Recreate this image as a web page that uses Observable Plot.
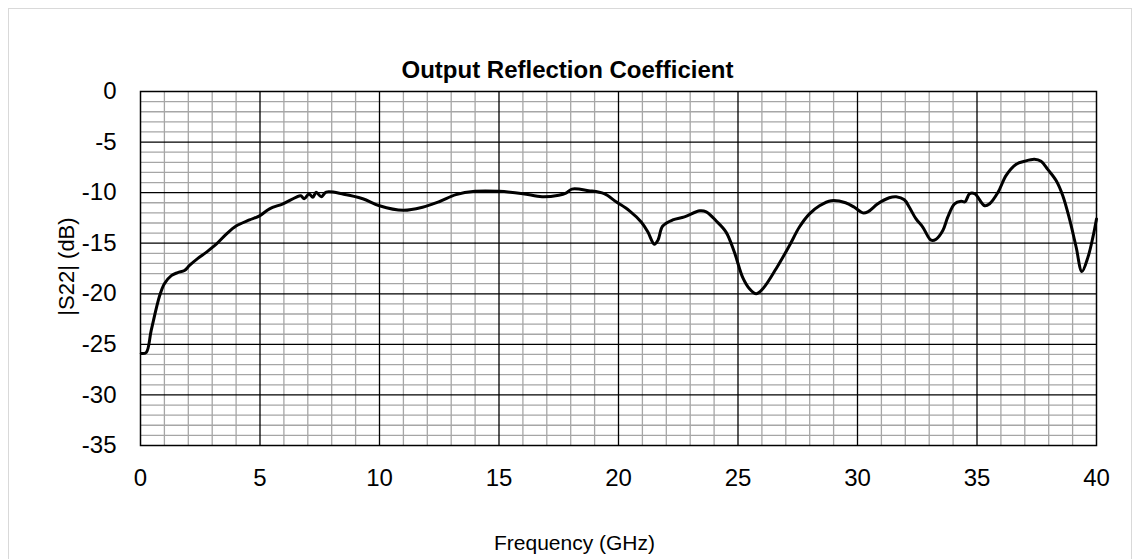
<!DOCTYPE html>
<html>
<head>
<meta charset="utf-8">
<script src="https://cdn.jsdelivr.net/npm/d3@7"></script>
<script src="https://cdn.jsdelivr.net/npm/@observablehq/plot@0.6"></script>
<style>
  html, body { margin: 0; padding: 0; background: #fff; }
  #wrap { position: relative; width: 1134px; height: 559px; overflow: hidden; }
  #border { position: absolute; left: 8px; top: 8px; width: 1124px; height: 560px; border: 1px solid #d9d9d9; box-sizing: border-box; pointer-events: none; }
  #chart { position: absolute; left: 0; top: 0; }
</style>
</head>
<body>
<div id="wrap"><div id="chart"></div><div id="border"></div></div>
<script>
const title = "Output Reflection Coefficient";
const xLabel = "Frequency (GHz)";
const yLabel = "|S22| (dB)";
const xTicks = [0, 5, 10, 15, 20, 25, 30, 35, 40];
const yTicks = [0, -5, -10, -15, -20, -25, -30, -35];

const freq = [0.03, 0.24, 0.45, 0.8, 1.0, 1.29, 1.56, 1.84, 2.05, 2.4, 2.75, 3.17, 3.59, 4.0, 4.56, 4.98, 5.4, 5.96,
  6.5, 6.71, 6.85, 7.05, 7.21, 7.35, 7.56, 7.77, 8.5, 9.3, 10.0, 11.0, 11.8, 12.5, 13.2, 14.0, 15.0, 16.0, 16.8,
  17.5, 17.8, 18.05, 18.75, 19.4, 19.9, 20.46, 20.95, 21.23, 21.5, 21.65, 21.85, 22.27, 22.76, 23.4, 23.67,
  24.09, 24.5, 24.85, 25.2, 25.48, 25.76, 26.04, 26.6, 27.16, 27.57, 27.99, 28.41, 28.9, 29.5, 29.87, 30.22,
  30.43, 30.85, 31.33, 31.62, 31.96, 32.17, 32.45, 32.73, 33.08, 33.29, 33.57, 33.78, 34.06, 34.34, 34.5,
  34.69, 34.9, 35.32, 35.53, 35.88, 36.22, 36.64, 36.99, 37.4, 37.68, 37.96, 38.31, 38.59, 38.87, 39.15,
  39.39, 39.64, 39.85, 40.0];
const s22 = [-25.9, -25.8, -23.6, -20.2, -19.0, -18.2, -17.9, -17.7, -17.2, -16.5, -15.9, -15.1, -14.1, -13.3, -12.7, -12.3, -11.6, -11.1,
  -10.46, -10.3, -10.6, -10.13, -10.46, -9.97, -10.4, -9.95, -10.15, -10.6, -11.3, -11.75, -11.45, -10.9, -10.2, -9.87, -9.87, -10.1, -10.4,
  -10.25, -10.05, -9.65, -9.8, -10.1, -10.9, -11.8, -12.9, -13.9, -15.1, -14.7, -13.3, -12.7, -12.4, -11.8, -11.9,
  -12.8, -13.9, -15.9, -18.4, -19.5, -20.0, -19.5, -17.5, -15.2, -13.4, -12.1, -11.3, -10.8, -11.0, -11.45, -12.0,
  -11.9, -11.1, -10.5, -10.4, -10.7, -11.45, -12.6, -13.4, -14.7, -14.6, -13.75, -12.4, -11.1, -10.86, -10.9,
  -10.1, -10.1, -11.3, -11.1, -9.97, -8.3, -7.2, -6.9, -6.7, -6.9, -7.7, -8.8, -10.3, -12.6, -15.4,
  -17.8, -16.4, -14.4, -12.6];

const data = freq.map((f, i) => ({f, v: s22[i]}));
const minorX = d3.range(0, 41, 1).filter(d => d % 5 !== 0);
const minorY = d3.range(-35, 1, 1).filter(d => d % 5 !== 0);
const majorX = xTicks.slice(1, -1);
const majorY = yTicks.slice(1, -1);

const font = "'Liberation Sans', Arial, sans-serif";

const chart = Plot.plot({
  width: 1134,
  height: 559,
  marginLeft: 140,
  marginRight: 38,
  marginTop: 91,
  marginBottom: 114,
  style: {fontFamily: font, fontSize: "24px", color: "#000", background: "transparent"},
  x: {domain: [0, 40], label: null},
  y: {domain: [-35, 0], label: null},
  marks: [
    Plot.ruleX(minorX, {stroke: "#a6a6a6", strokeWidth: 1.3}),
    Plot.ruleY(minorY, {stroke: "#a6a6a6", strokeWidth: 1.3}),
    Plot.ruleX(majorX, {stroke: "#000", strokeWidth: 1.3}),
    Plot.ruleY(majorY, {stroke: "#000", strokeWidth: 1.3}),
    Plot.frame({stroke: "#000", strokeWidth: 1.5}),
    Plot.axisX({ticks: xTicks, tickSize: 0, tickPadding: 23, fontSize: 24, tickFormat: d => String(d), label: null}),
    Plot.axisY({ticks: yTicks, tickSize: 0, tickPadding: 24, fontSize: 24, tickFormat: d => String(d), label: null}),
    Plot.line(data, {x: "f", y: "v", stroke: "#000", strokeWidth: 3, curve: "catmull-rom"}),
    Plot.text([title], {frameAnchor: "top", lineAnchor: "middle", dx: -51, dy: -21, fontSize: 24, fontWeight: "bold", fill: "#000"}),
    Plot.text([xLabel], {frameAnchor: "bottom", lineAnchor: "middle", dx: -44, dy: 98, fontSize: 21, fill: "#000"}),
    Plot.text([yLabel], {frameAnchor: "left", textAnchor: "middle", lineAnchor: "middle", dx: -74, dy: -2, rotate: -90, fontSize: 22, fill: "#000"})
  ]
});
document.getElementById("chart").appendChild(chart);
</script>
</body>
</html>
